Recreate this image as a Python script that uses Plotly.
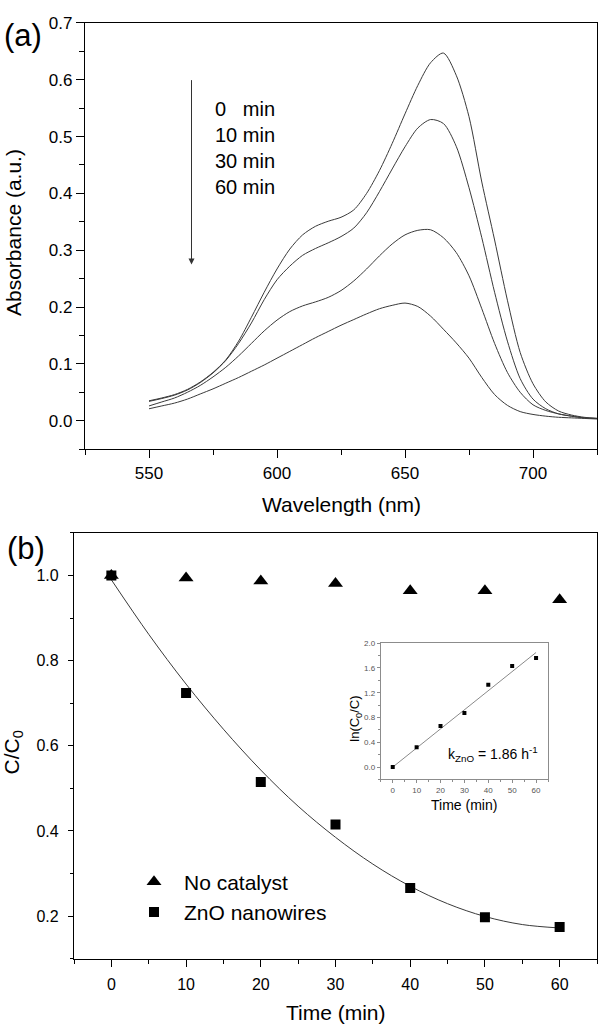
import plotly.graph_objects as go

# ---------------- data: panel (a) UV-vis spectra ----------------
wavelength = [550, 555, 560, 565, 570, 575, 580, 585, 590, 595, 600, 605, 610, 615,
              620, 625, 630, 635, 640, 645, 650, 655, 660, 665, 670, 675, 680, 685,
              690, 695, 700, 705, 710, 715, 720, 725]
abs_0min = [0.035, 0.040, 0.046, 0.055, 0.068, 0.085, 0.107, 0.140, 0.182, 0.226,
            0.267, 0.302, 0.327, 0.342, 0.351, 0.358, 0.371, 0.400, 0.440, 0.488,
            0.540, 0.590, 0.630, 0.647, 0.608, 0.535, 0.420, 0.318, 0.212, 0.120,
            0.065, 0.033, 0.017, 0.010, 0.006, 0.004]
abs_10min = [0.034, 0.039, 0.045, 0.054, 0.067, 0.084, 0.106, 0.136, 0.172, 0.213,
             0.248, 0.272, 0.291, 0.303, 0.313, 0.324, 0.339, 0.366, 0.403, 0.443,
             0.482, 0.515, 0.530, 0.523, 0.483, 0.410, 0.322, 0.226, 0.140, 0.074,
             0.038, 0.021, 0.012, 0.008, 0.005, 0.004]
abs_30min = [0.026, 0.033, 0.040, 0.050, 0.062, 0.077, 0.094, 0.114, 0.136, 0.158,
             0.177, 0.192, 0.202, 0.209, 0.217, 0.229, 0.246, 0.267, 0.290, 0.311,
             0.327, 0.335, 0.336, 0.322, 0.296, 0.255, 0.197, 0.136, 0.085, 0.050,
             0.028, 0.018, 0.012, 0.008, 0.005, 0.004]
abs_60min = [0.021, 0.026, 0.031, 0.038, 0.047, 0.056, 0.066, 0.076, 0.087, 0.098,
             0.110, 0.122, 0.134, 0.146, 0.157, 0.168, 0.178, 0.188, 0.197, 0.203,
             0.207, 0.201, 0.184, 0.161, 0.137, 0.110, 0.076, 0.046, 0.027, 0.016,
             0.011, 0.008, 0.006, 0.005, 0.004, 0.003]
spectra_labels = ["0\u00a0\u00a0\u00a0min", "10 min", "30 min", "60 min"]

# ---------------- data: panel (b) kinetics ----------------
time_min = [0, 10, 20, 30, 40, 50, 60]
no_catalyst = [1.0, 0.994, 0.987, 0.981, 0.964, 0.964, 0.943]
zno_nanowires = [1.0, 0.724, 0.515, 0.415, 0.266, 0.197, 0.174]
fit_time = [0, 5, 10, 15, 20, 25, 30, 35, 40, 45, 50, 55, 60]
fit_values = [0.99, 0.862, 0.745, 0.639, 0.543, 0.458, 0.385, 0.322, 0.270,
              0.229, 0.199, 0.180, 0.172]

# inset: ln(C0/C) vs time
ln_c0c = [0.0, 0.32, 0.665, 0.875, 1.33, 1.63, 1.76]
ln_fit_time = [0, 60]
ln_fit_values = [0.0, 1.85]

FONT = "Liberation Sans, Arial, sans-serif"
W, H = 600, 1027
LINE = "#3a3a3a"


def px(x):
    return x / W


def py(y):
    return 1 - y / H


fig = go.Figure()

for vals in (abs_0min, abs_10min, abs_30min, abs_60min):
    fig.add_trace(go.Scatter(x=wavelength, y=vals, mode="lines",
                             line=dict(color=LINE, width=1, shape="spline", smoothing=0.8),
                             showlegend=False, xaxis="x", yaxis="y", hoverinfo="skip"))

fig.add_trace(go.Scatter(x=fit_time, y=fit_values, mode="lines",
                         line=dict(color=LINE, width=1, shape="spline"),
                         showlegend=False, xaxis="x2", yaxis="y2"))
fig.add_trace(go.Scatter(x=time_min, y=no_catalyst, mode="markers", name="No catalyst",
                         marker=dict(symbol="triangle-up", size=13, color="black"),
                         xaxis="x2", yaxis="y2"))
fig.add_trace(go.Scatter(x=time_min, y=zno_nanowires, mode="markers", name="ZnO nanowires",
                         marker=dict(symbol="square", size=10, color="black"),
                         xaxis="x2", yaxis="y2"))

fig.add_trace(go.Scatter(x=ln_fit_time, y=ln_fit_values, mode="lines",
                         line=dict(color="#8a8a8a", width=1),
                         showlegend=False, xaxis="x3", yaxis="y3"))
fig.add_trace(go.Scatter(x=time_min, y=ln_c0c, mode="markers",
                         marker=dict(symbol="square", size=4, color="black"),
                         showlegend=False, xaxis="x3", yaxis="y3"))

axis_common = dict(showline=True, linecolor="black", linewidth=1.3, mirror=True,
                   ticks="outside", tickcolor="black", showgrid=False, zeroline=False,
                   tickfont=dict(family=FONT, size=17, color="black"))

fig.update_layout(
    width=W, height=H,
    margin=dict(l=0, r=0, t=0, b=0),
    paper_bgcolor="white", plot_bgcolor="white",
    font=dict(family=FONT, color="black"),
    xaxis=dict(axis_common, domain=[px(85), px(597)], anchor="y",
               range=[525, 725], tick0=550, dtick=50, ticklen=8, tickwidth=1.2,
               minor=dict(dtick=25, tick0=525, ticklen=5, ticks="outside",
                          tickcolor="black", tickwidth=1.2)),
    yaxis=dict(axis_common, domain=[py(444), py(14)], anchor="x",
               range=[-0.05, 0.7001], tick0=0, dtick=0.1, tickformat=".1f",
               ticklen=8, tickwidth=1.2,
               minor=dict(dtick=0.05, tick0=0, ticklen=5, ticks="outside",
                          tickcolor="black", tickwidth=1.2)),
    xaxis2=dict(axis_common, domain=[px(74), px(597)], anchor="y2",
                range=[-5, 65], tick0=0, dtick=10, ticklen=7, tickwidth=1.2,
                tickfont=dict(family=FONT, size=16, color="black"),
                ticklabelstandoff=4,
                minor=dict(dtick=5, tick0=0, ticklen=4, ticks="outside",
                           tickcolor="black", tickwidth=1.2)),
    yaxis2=dict(axis_common, domain=[py(958), py(528.6)], anchor="x2",
                range=[0.1, 1.1], tick0=0.2, dtick=0.2, tickformat=".1f",
                ticklen=5, tickwidth=1.2, ticklabelstandoff=6,
                tickfont=dict(family=FONT, size=16, color="black"),
                minor=dict(dtick=0.1, tick0=0.1, ticklen=3, ticks="outside",
                           tickcolor="black", tickwidth=1.2)),
    xaxis3=dict(showline=True, linecolor="#8c8c8c", linewidth=1, mirror=True,
                ticks="outside", tickcolor="#8c8c8c", ticklen=3, showgrid=False,
                zeroline=False, domain=[px(380.8), px(548)], anchor="y3",
                range=[-5, 65], tick0=0, dtick=10,
                tickfont=dict(family=FONT, size=8, color="#555555"),
                minor=dict(dtick=5, tick0=0, ticklen=2, ticks="outside", tickcolor="#8c8c8c")),
    yaxis3=dict(showline=True, linecolor="#8c8c8c", linewidth=1, mirror=True,
                ticks="outside", tickcolor="#8c8c8c", ticklen=3, showgrid=False,
                zeroline=False, domain=[py(777.3), py(639.8)], anchor="x3",
                range=[-0.2, 2.0], tick0=0, dtick=0.4, tickformat=".1f",
                tickfont=dict(family=FONT, size=8, color="#555555"),
                minor=dict(dtick=0.2, tick0=0, ticklen=2, ticks="outside", tickcolor="#8c8c8c")),
    legend=dict(x=px(124), y=py(896), xanchor="left", yanchor="middle",
                bgcolor="rgba(0,0,0,0)", borderwidth=0, itemwidth=50,
                font=dict(family=FONT, size=21, color="black"),
                tracegroupgap=0),
)

annotations = [
    dict(text="(a)", x=px(23), y=py(27), font=dict(size=31)),
    dict(text="(b)", x=px(26), y=py(544), font=dict(size=31)),
    dict(text="Absorbance (a.u.)", x=px(13), y=py(226), textangle=-90, font=dict(size=21)),
    dict(text="Wavelength (nm)", x=px(341.5), y=py(500), font=dict(size=21)),
    dict(text="C/C<sub>0</sub>", x=px(13), y=py(750), textangle=-90, font=dict(size=21)),
    dict(text="Time (min)", x=px(336), y=py(1012), font=dict(size=21)),
    dict(text="<br>".join(spectra_labels), x=px(213), y=py(140), xanchor="left",
         align="left", font=dict(size=20)),
    dict(text="Time (min)", x=px(464), y=py(803), font=dict(size=14)),
    dict(text="ln(C<sub>0</sub>/C)", x=px(356), y=py(716), textangle=-90, font=dict(size=13)),
    dict(text="k<sub>ZnO</sub> = 1.86 h<sup>-1</sup>", x=px(540), y=py(752),
         xanchor="right", font=dict(size=14)),
]
for a in annotations:
    a.setdefault("xanchor", "center")
    a.update(xref="paper", yref="paper", showarrow=False, yanchor="middle")
    a["font"] = dict(family=FONT, color="black", **a["font"])
    fig.add_annotation(**a)

# downward arrow in panel (a)
fig.add_annotation(x=566.6, y=0.275, ax=566.6, ay=0.602, xref="x", yref="y",
                   axref="x", ayref="y", text="", showarrow=True,
                   arrowhead=2, arrowsize=1.2, arrowwidth=1, arrowcolor="#333333")

# remove the browser's default 8 px body margin so the figure fills the window
fig.write_html("out.html",
               config={"displayModeBar": False},
               post_script="document.body.style.margin='0';document.body.style.overflow='hidden';")
